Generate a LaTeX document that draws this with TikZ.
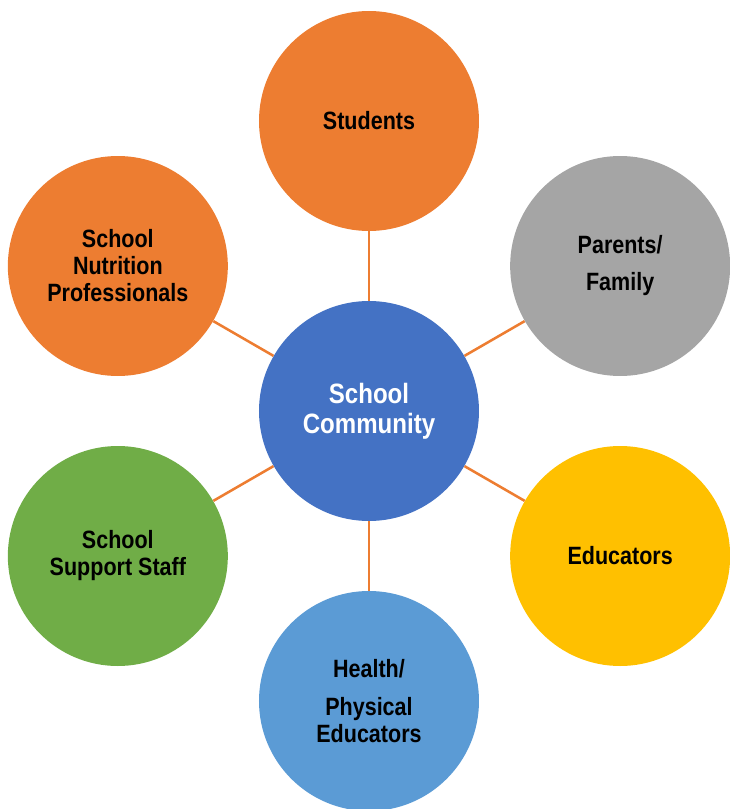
\documentclass[tikz,border=0pt]{standalone}
\usepackage{fontspec}
\setmainfont{Liberation Sans}[FakeStretch=0.86]

\definecolor{hubblue}{HTML}{4472C4}
\definecolor{memorange}{HTML}{ED7D31}
\definecolor{memgrey}{HTML}{A5A5A5}
\definecolor{memyellow}{HTML}{FFC000}
\definecolor{memblue}{HTML}{5B9BD5}
\definecolor{memgreen}{HTML}{70AD47}

\tikzset{
  member/.style={circle, minimum size=5.5cm, inner sep=0pt, align=center,
    font=\fontsize{17.8pt}{19.2pt}\selectfont\bfseries},
  hub/.style={member, fill=hubblue, text=white,
    font=\fontsize{19.9pt}{21.3pt}\selectfont\bfseries},
  link/.style={draw=memorange, line width=1.8pt}
}

\begin{document}
\begin{tikzpicture}
            \useasboundingbox (-9.225,-9.95) rectangle (9.025,10.275);

            \node[hub] (community) at (0,0) {School\\Community};

            \node[member, fill=memorange] (students) at (90:7.25) {Students};
            \node[member, fill=memgrey] (parents) at (30:7.25) {Parents/\\[7.1pt]Family};
            \node[member, fill=memyellow] (educators) at (-30:7.25) {Educators};
            \node[member, fill=memblue] (health) at (-90:7.25) {Health/\\[7.8pt]Physical\\Educators};
            \node[member, fill=memgreen] (support) at (210:7.25) {School\\Support Staff};
            \node[member, fill=memorange] (nutrition) at (150:7.25) {School\\Nutrition\\Professionals};

            \foreach \m in {students,parents,educators,health,support,nutrition}
                \draw[link] (community) -- (\m);
        \end{tikzpicture}
\end{document}
